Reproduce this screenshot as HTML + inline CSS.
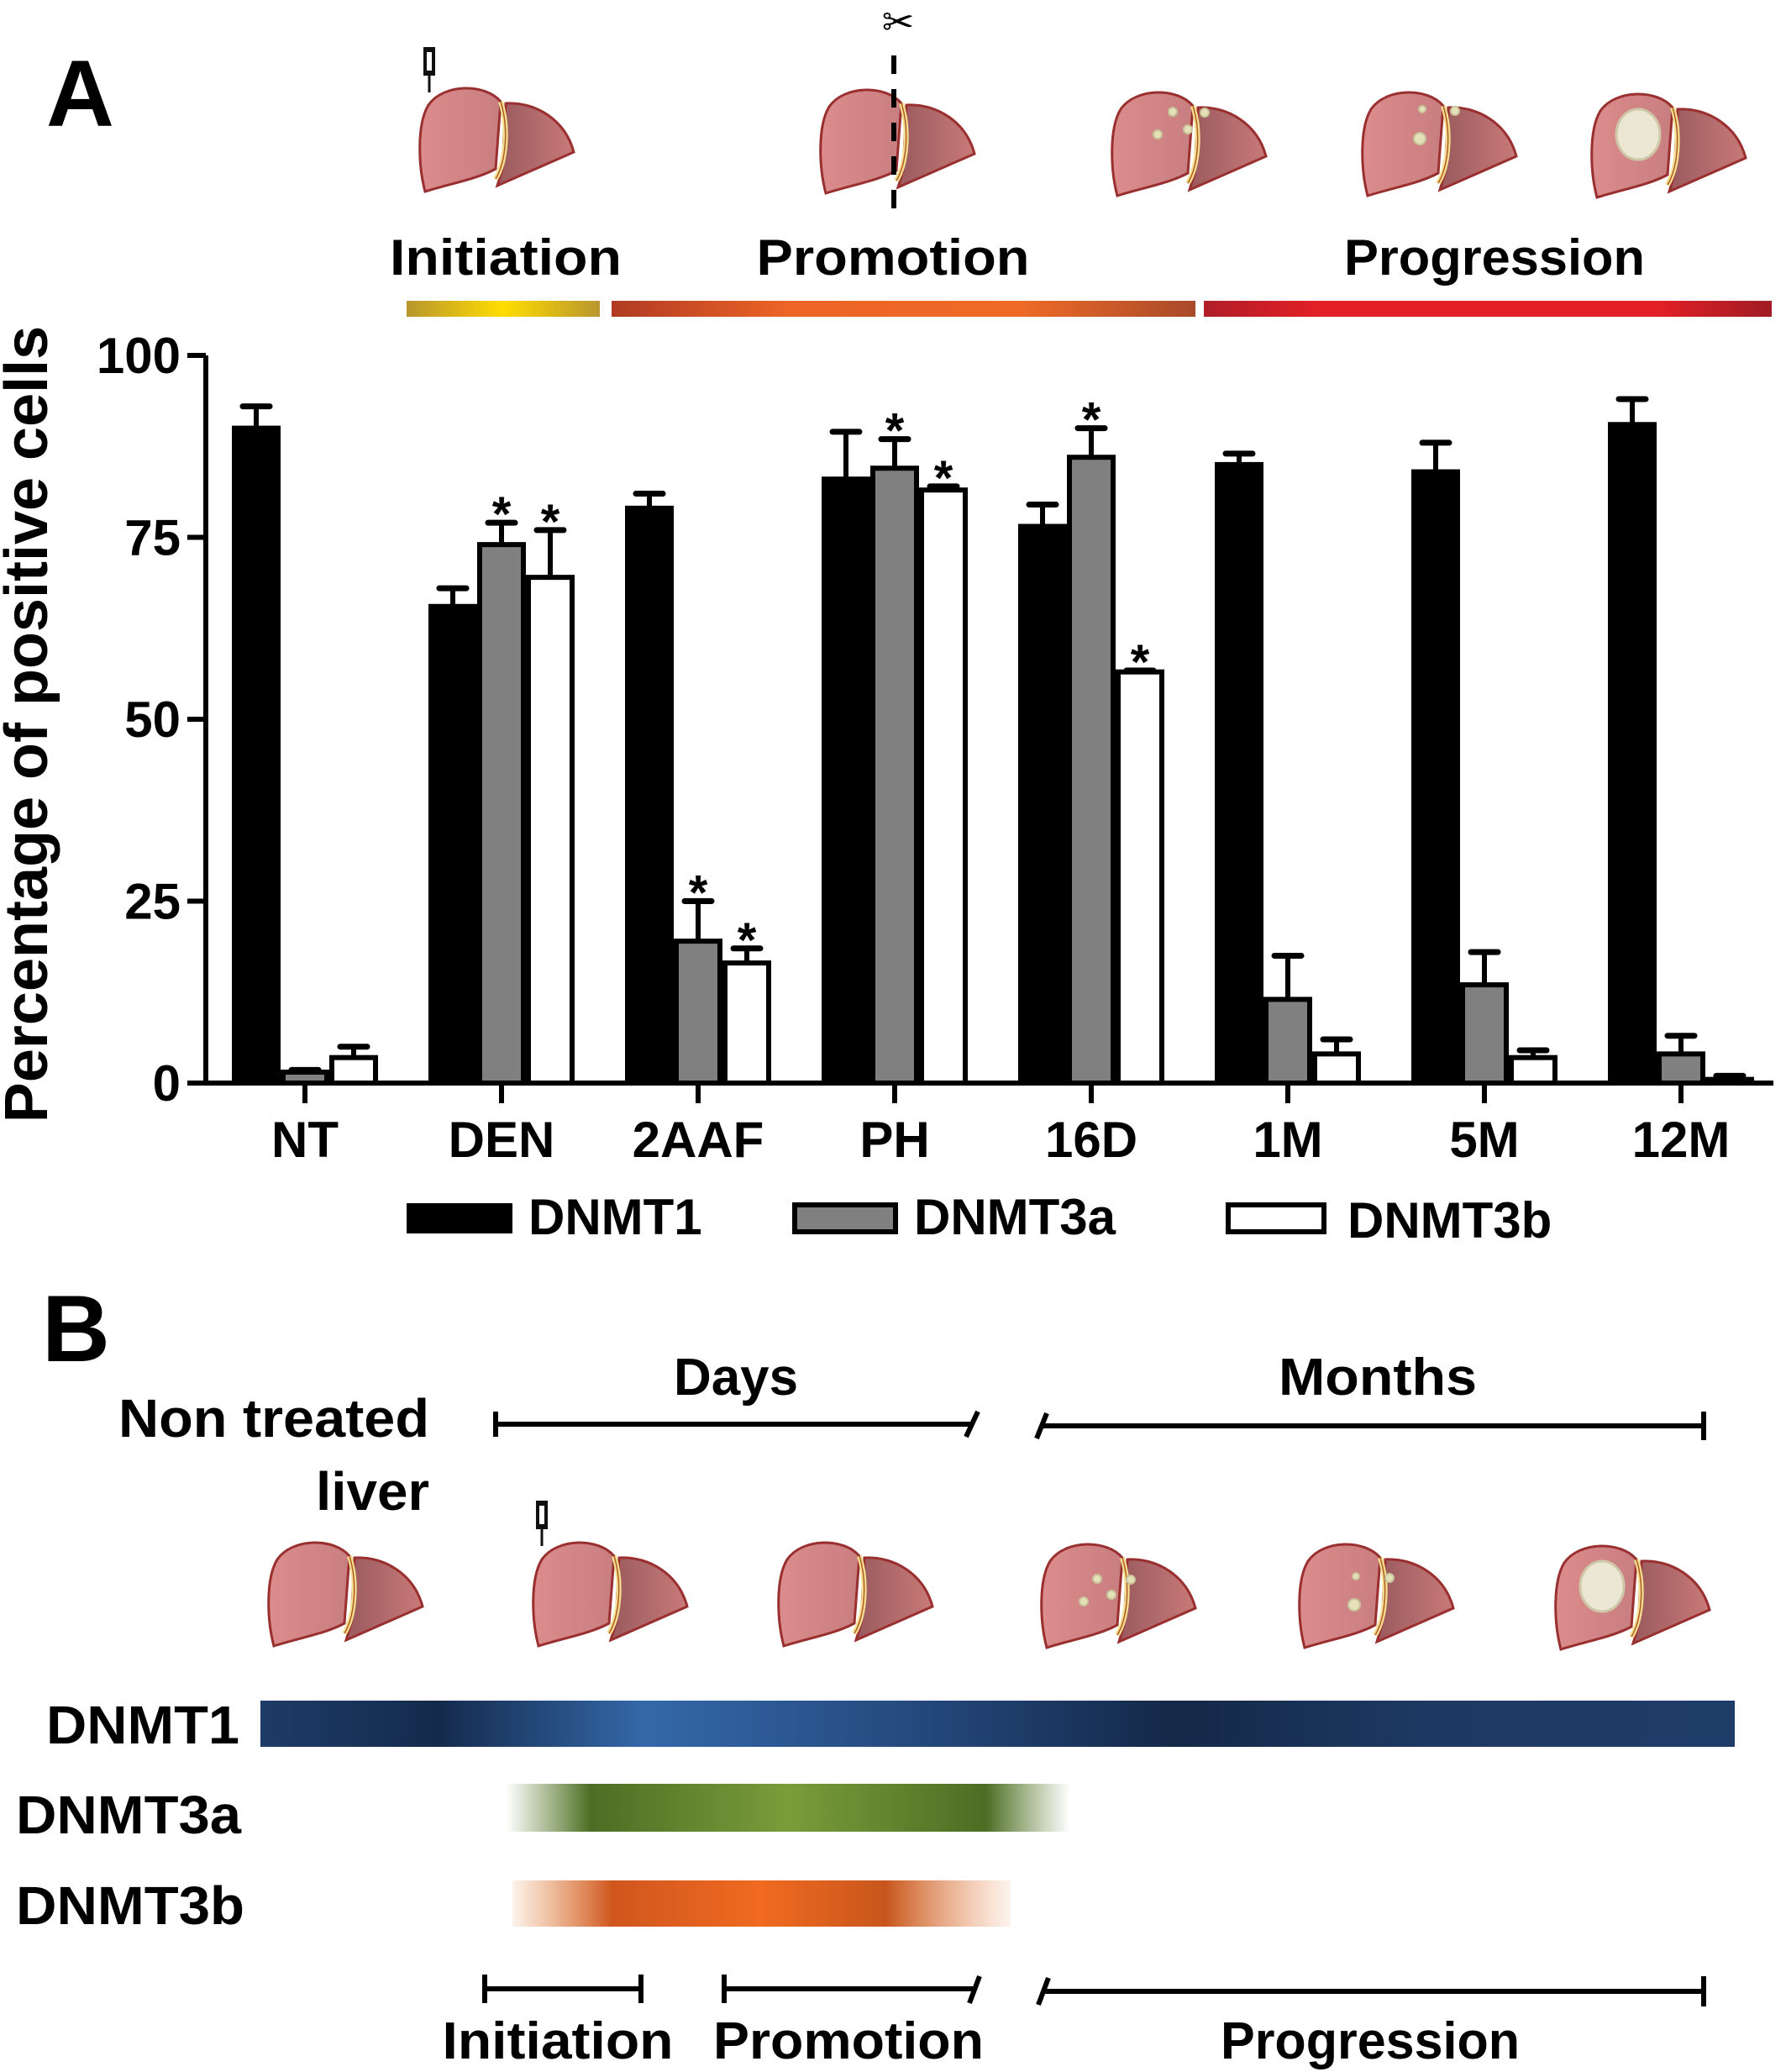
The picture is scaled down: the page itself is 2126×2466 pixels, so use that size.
<!DOCTYPE html>
<html><head><meta charset="utf-8"><style>
html,body{margin:0;padding:0;background:#fff;}
svg{display:block;}
.b{font-family:"Liberation Sans",Arial,sans-serif;font-weight:bold;}
.n{font-family:"Liberation Sans Narrow","Liberation Sans",sans-serif;font-weight:bold;}
</style></head><body>
<svg id="fig" width="2126" height="2466" viewBox="0 0 2126 2466" xmlns="http://www.w3.org/2000/svg">
<defs>
<linearGradient id="gInit" x1="0" x2="1"><stop offset="0" stop-color="#b8962e"/><stop offset="0.5" stop-color="#ffdd00"/><stop offset="1" stop-color="#b8962e"/></linearGradient>
<linearGradient id="gProm" x1="0" x2="1"><stop offset="0" stop-color="#b03a22"/><stop offset="0.3" stop-color="#ec6426"/><stop offset="0.7" stop-color="#ee6a26"/><stop offset="1" stop-color="#a84a2a"/></linearGradient>
<linearGradient id="gProg" x1="0" x2="1"><stop offset="0" stop-color="#b01e28"/><stop offset="0.2" stop-color="#e21f26"/><stop offset="0.8" stop-color="#e21f26"/><stop offset="1" stop-color="#a01c24"/></linearGradient>
<linearGradient id="gD1" x1="0" x2="1"><stop offset="0" stop-color="#1e3c68"/><stop offset="0.12" stop-color="#142a4c"/><stop offset="0.26" stop-color="#3468a8"/><stop offset="0.45" stop-color="#24487c"/><stop offset="0.62" stop-color="#142848"/><stop offset="0.8" stop-color="#1e3a64"/><stop offset="1" stop-color="#1e3c68"/></linearGradient>
<linearGradient id="gD3a" x1="0" x2="1"><stop offset="0" stop-color="#5a7a2a" stop-opacity="0"/><stop offset="0.15" stop-color="#4c6e24"/><stop offset="0.5" stop-color="#7a9c3a"/><stop offset="0.85" stop-color="#4c6e24"/><stop offset="1" stop-color="#5a7a2a" stop-opacity="0"/></linearGradient>
<linearGradient id="gD3b" x1="0" x2="1"><stop offset="0" stop-color="#e07a30" stop-opacity="0.1"/><stop offset="0.2" stop-color="#d0561e"/><stop offset="0.5" stop-color="#f06a20"/><stop offset="0.75" stop-color="#c8561c"/><stop offset="1" stop-color="#e88a50" stop-opacity="0.1"/></linearGradient>
<linearGradient id="gLobe" x1="0" x2="1"><stop offset="0" stop-color="#dc8c8c"/><stop offset="1" stop-color="#c87e80"/></linearGradient>
<linearGradient id="gLobeR" x1="0" x2="1"><stop offset="0" stop-color="#9a5a5e"/><stop offset="1" stop-color="#c87a78"/></linearGradient>
<g id="liver">
<path d="M8,125 C0,95 -2,45 12,22 C30,-4 80,-4 98,18 L92,98 C70,110 40,115 8,125 Z" fill="url(#gLobe)" stroke="#9a2f2f" stroke-width="3"/>
<path d="M104,20 C140,18 175,40 185,78 L94,118 L100,98 Z" fill="url(#gLobeR)" stroke="#9a2f2f" stroke-width="3"/>
<path d="M98,18 C108,50 104,90 92,110" fill="none" stroke="#f5e090" stroke-width="6"/>
<path d="M98,18 C108,50 104,90 92,110" fill="none" stroke="#b05a2a" stroke-width="1.5"/>
</g>
<g id="syringe"><rect x="-7" y="-30" width="14" height="34" fill="#111"/><rect x="-3" y="-24" width="6" height="22" fill="#fff"/><line x1="0" y1="4" x2="0" y2="24" stroke="#111" stroke-width="3"/></g>
</defs>

<text x="55" y="150" class="b" font-size="112">A</text>

<use href="#syringe" x="511" y="86"/>
<use href="#liver" x="498" y="103"/>
<use href="#liver" x="975" y="105"/>
<line x1="1064" y1="66" x2="1064" y2="262" stroke="#000" stroke-width="6" stroke-dasharray="22,18"/>
<text x="1069" y="42" font-size="46" text-anchor="middle" font-family="DejaVu Sans,sans-serif">✂</text>
<use href="#liver" x="1322" y="108"/>
<g fill="#e6e0b8" stroke="#c8c49a" stroke-width="2"><circle cx="1396" cy="133" r="5"/><circle cx="1434" cy="134" r="5"/><circle cx="1414" cy="154" r="5"/><circle cx="1378" cy="160" r="5"/></g>
<use href="#liver" x="1620" y="108"/>
<g fill="#e6e0b8" stroke="#c8c49a" stroke-width="2"><circle cx="1693" cy="130" r="4"/><circle cx="1732" cy="132" r="5"/><circle cx="1690" cy="165" r="7"/></g>
<use href="#liver" x="1893" y="110"/>
<ellipse cx="1950" cy="160" rx="26" ry="30" fill="#ece6d4" stroke="#cfc8a8" stroke-width="3"/>

<text x="602" y="327" class="n" font-size="60" text-anchor="middle" textLength="276" lengthAdjust="spacingAndGlyphs">Initiation</text>
<text x="1063" y="327" class="n" font-size="60" text-anchor="middle" textLength="325" lengthAdjust="spacingAndGlyphs">Promotion</text>
<text x="1779" y="327" class="n" font-size="60" text-anchor="middle" textLength="358" lengthAdjust="spacingAndGlyphs">Progression</text>
<rect x="484" y="358" width="230" height="19" fill="url(#gInit)"/>
<rect x="728" y="358" width="695" height="19" fill="url(#gProm)"/>
<rect x="1433" y="358" width="676" height="19" fill="url(#gProg)"/>

<g id="chart"></g>

<rect x="484" y="1432" width="126" height="36" fill="#000"/>
<text x="629" y="1469" class="b" font-size="60">DNMT1</text>
<rect x="946" y="1434" width="120" height="32" fill="#808080" stroke="#000" stroke-width="6"/>
<text x="1088" y="1469" class="b" font-size="60">DNMT3a</text>
<rect x="1462" y="1434" width="114" height="32" fill="#fff" stroke="#000" stroke-width="6"/>
<text x="1604" y="1473" class="b" font-size="60">DNMT3b</text>

<text x="50" y="1620" class="b" font-size="112">B</text>
<text x="511" y="1710" class="n" font-size="64" text-anchor="end" textLength="370" lengthAdjust="spacingAndGlyphs">Non treated</text>
<text x="511" y="1797" class="n" font-size="64" text-anchor="end" textLength="135" lengthAdjust="spacingAndGlyphs">liver</text>
<text x="876" y="1660" class="n" font-size="62" text-anchor="middle" textLength="148" lengthAdjust="spacingAndGlyphs">Days</text>
<text x="1640" y="1660" class="n" font-size="62" text-anchor="middle" textLength="236" lengthAdjust="spacingAndGlyphs">Months</text>
<g stroke="#000" stroke-width="6" fill="none">
<line x1="590" y1="1695" x2="1158" y2="1695"/><line x1="590" y1="1680" x2="590" y2="1710"/><line x1="1150" y1="1710" x2="1164" y2="1680"/>
</g>
<g stroke="#000" stroke-width="6" fill="none">
<line x1="1238" y1="1697" x2="2028" y2="1697"/><line x1="1234" y1="1712" x2="1246" y2="1682"/><line x1="2028" y1="1680" x2="2028" y2="1714"/>
</g>
<use href="#liver" x="318" y="1834"/>
<use href="#syringe" x="645" y="1816"/>
<use href="#liver" x="633" y="1834"/>
<use href="#liver" x="925" y="1834"/>
<use href="#liver" x="1238" y="1836"/>
<g fill="#e6e0b8" stroke="#c8c49a" stroke-width="2"><circle cx="1306" cy="1879" r="5"/><circle cx="1346" cy="1880" r="5"/><circle cx="1323" cy="1898" r="5"/><circle cx="1290" cy="1906" r="5"/></g>
<use href="#liver" x="1545" y="1836"/>
<g fill="#e6e0b8" stroke="#c8c49a" stroke-width="2"><circle cx="1614" cy="1876" r="4"/><circle cx="1654" cy="1878" r="5"/><circle cx="1612" cy="1910" r="7"/></g>
<use href="#liver" x="1850" y="1838"/>
<ellipse cx="1907" cy="1888" rx="26" ry="30" fill="#ece6d4" stroke="#cfc8a8" stroke-width="3"/>

<text x="285" y="2075" class="n" font-size="64" text-anchor="end" textLength="230" lengthAdjust="spacingAndGlyphs">DNMT1</text>
<rect x="310" y="2024" width="1755" height="55" fill="url(#gD1)"/>
<text x="19" y="2182" class="n" font-size="64" textLength="268" lengthAdjust="spacingAndGlyphs">DNMT3a</text>
<rect x="602" y="2123" width="672" height="57" fill="url(#gD3a)"/>
<text x="19" y="2290" class="n" font-size="64" textLength="272" lengthAdjust="spacingAndGlyphs">DNMT3b</text>
<rect x="610" y="2238" width="593" height="55" fill="url(#gD3b)"/>

<g stroke="#000" stroke-width="6" fill="none">
<line x1="577" y1="2367" x2="763" y2="2367"/><line x1="577" y1="2350" x2="577" y2="2384"/><line x1="763" y1="2350" x2="763" y2="2384"/>
</g>
<g stroke="#000" stroke-width="6" fill="none">
<line x1="862" y1="2367" x2="1160" y2="2367"/><line x1="862" y1="2350" x2="862" y2="2384"/><line x1="1154" y1="2384" x2="1166" y2="2352"/>
</g>
<g stroke="#000" stroke-width="6" fill="none">
<line x1="1240" y1="2370" x2="2028" y2="2370"/><line x1="1236" y1="2386" x2="1248" y2="2354"/><line x1="2028" y1="2352" x2="2028" y2="2388"/>
</g>
<text x="664" y="2450" class="n" font-size="62" text-anchor="middle" textLength="275" lengthAdjust="spacingAndGlyphs">Initiation</text>
<text x="1010" y="2450" class="n" font-size="62" text-anchor="middle" textLength="322" lengthAdjust="spacingAndGlyphs">Promotion</text>
<text x="1631" y="2450" class="n" font-size="62" text-anchor="middle" textLength="356" lengthAdjust="spacingAndGlyphs">Progression</text>
</svg>
<script>
const categories = ["NT","DEN","2AAF","PH","16D","1M","5M","12M"];
const dnmt1 = [90, 65.5, 79, 83, 76.5, 85, 84, 90.5];
const dnmt1Err = [3, 2.5, 2, 6.5, 3, 1.5, 4, 3.5];
const dnmt3a = [1.5, 74, 19.5, 84.5, 86, 11.5, 13.5, 4];
const dnmt3aErr = [0.3, 3, 5.5, 4, 4, 6, 4.5, 2.5];
const dnmt3b = [3.5, 69.5, 16.5, 81.5, 56.5, 4, 3.5, 0.5];
const dnmt3bErr = [1.5, 6.5, 2, 0.5, 0.2, 2, 1, 0.5];
const star3a = [false,true,true,true,true,false,false,false];
const star3b = [false,true,true,true,true,false,false,false];
const yTicks = [0,25,50,75,100];

const NS="http://www.w3.org/2000/svg";
const g=document.getElementById('chart');
const X0=245, Y0=1289, Y100=423, C0=363, DX=234, BW=58;
const y=v=>Y0-(Y0-Y100)*v/100;
const xc=i=>C0+DX*i;
function mk(t,a){const e=document.createElementNS(NS,t);for(const k in a)e.setAttribute(k,a[k]);g.appendChild(e);return e;}
const series=[[dnmt1,dnmt1Err,"#000","#000",null,"dnmt1"],[dnmt3a,dnmt3aErr,"#808080","#000",star3a,"dnmt3a"],[dnmt3b,dnmt3bErr,"#fff","#000",star3b,"dnmt3b"]];
categories.forEach((c,i)=>{
  series.forEach((s,j)=>{
    const v=s[0][i], e=s[1][i];
    const x=xc(i)+(j-1.5)*BW;
    const top=y(v+e);
    const el=mk('line',{x1:x+BW/2,x2:x+BW/2,y1:top,y2:y(v),stroke:'#000','stroke-width':6});
    
    
    const cap=mk('line',{x1:x+BW/2-16,x2:x+BW/2+16,y1:top,y2:top,stroke:'#000','stroke-width':7,'stroke-linecap':'round'});
    
    
    const r=mk('rect',{x:x+3,y:y(v),width:BW-6,height:Math.max(0,Y0-y(v)),fill:s[2],stroke:s[3],'stroke-width':6});
    
    
    if(s[4]&&s[4][i]){
      const t=mk('text',{x:x+BW/2,y:top+10,'text-anchor':'middle','font-size':58,'class':'b'});
      t.textContent='*';
      
      
    }
  });
  const tk=mk('line',{x1:xc(i),x2:xc(i),y1:Y0,y2:Y0+24,stroke:'#000','stroke-width':6});
  
  
  const lb=mk('text',{x:xc(i),y:Y0+88,'text-anchor':'middle','font-size':60,'class':'b'});
  lb.textContent=c;
  
  
});
const ax=mk('path',{d:`M${X0},${Y100} V${Y0} H${xc(7)+110}`,fill:'none',stroke:'#000','stroke-width':6});


yTicks.forEach(t=>{
  const l=mk('line',{x1:X0-22,x2:X0,y1:y(t),y2:y(t),stroke:'#000','stroke-width':6});
  
  
  const tx=mk('text',{x:X0-30,y:y(t)+21,'text-anchor':'end','font-size':60,'class':'b'});
  tx.textContent=t;
  
  
});
const yt=mk('text',{x:0,y:0,'text-anchor':'middle','font-size':72,'class':'b',transform:'translate(56,862) rotate(-90)'});
yt.textContent='Percentage of positive cells';


</script>
</body></html>
